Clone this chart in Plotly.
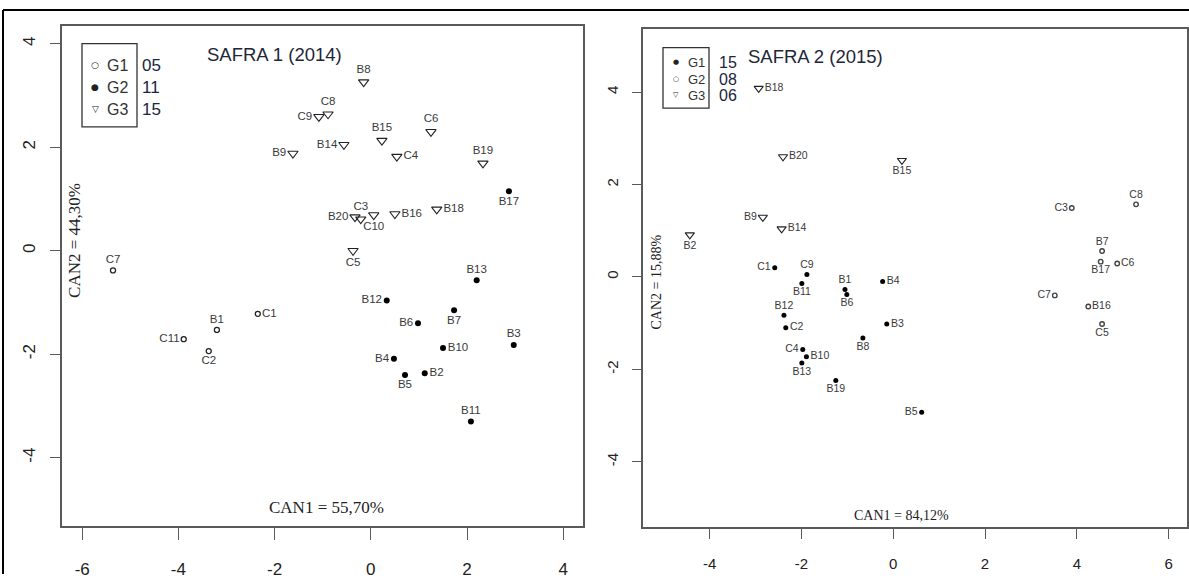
import plotly.graph_objects as go

W, H = 1189, 579

# ---- SAFRA 1 (2014) canonical scores ----
s1_names = ["C1", "B1", "C11", "C2", "C7",
            "B17", "B13", "B12", "B7", "B6", "B3", "B10", "B4", "B5", "B2", "B11",
            "B8", "C8", "C9", "B9", "B14", "B15", "C4", "C6", "B19", "B20", "C3", "C10", "B16", "B18", "C5"]
s1_can1 = [-2.35, -3.20, -3.89, -3.37, -5.36,
           2.87, 2.20, 0.33, 1.73, 0.98, 2.97, 1.50, 0.48, 0.71, 1.12, 2.08,
           -0.15, -0.89, -1.08, -1.62, -0.56, 0.23, 0.54, 1.25, 2.33, -0.33, -0.21, 0.06, 0.50, 1.37, -0.37]
s1_can2 = [-1.22, -1.53, -1.71, -1.94, -0.38,
           1.15, -0.57, -0.96, -1.15, -1.40, -1.82, -1.88, -2.09, -2.40, -2.37, -3.30,
           3.26, 2.64, 2.59, 1.88, 2.05, 2.13, 1.82, 2.30, 1.69, 0.65, 0.61, 0.69, 0.71, 0.80, 0.00]
s1_group = ["G1"] * 5 + ["G2"] * 11 + ["G3"] * 15
s1_counts = {"G1": "05", "G2": "11", "G3": "15"}

# ---- SAFRA 2 (2015) canonical scores ----
s2_names = ["C1", "C9", "B11", "B1", "B6", "B4", "B12", "C2", "B3", "B8", "C4", "B10", "B13", "B19", "B5",
            "C3", "C8", "B7", "B17", "C6", "C7", "B16", "C5",
            "B18", "B20", "B9", "B14", "B2", "B15"]
s2_can1 = [-2.58, -1.88, -1.99, -1.05, -1.01, -0.23, -2.38, -2.34, -0.14, -0.66, -1.97, -1.89, -1.99, -1.25, 0.62,
           3.89, 5.29, 4.55, 4.52, 4.88, 3.52, 4.25, 4.55,
           -2.93, -2.40, -2.84, -2.43, -4.43, 0.19]
s2_can2 = [0.20, 0.05, -0.14, -0.27, -0.38, -0.10, -0.83, -1.10, -1.02, -1.32, -1.57, -1.73, -1.86, -2.24, -2.93,
           1.49, 1.57, 0.56, 0.33, 0.29, -0.40, -0.64, -1.02,
           4.08, 2.60, 1.29, 1.04, 0.91, 2.52]
s2_group = ["G1"] * 15 + ["G2"] * 8 + ["G3"] * 6
s2_counts = {"G1": "15", "G2": "08", "G3": "06"}

# side of each point label (1 below, 2 left, 3 above, 4 right)
s1_side = {"C1": 4, "B1": 3, "C11": 2, "C2": 1, "C7": 3,
           "B17": 1, "B13": 3, "B12": 2, "B7": 1, "B6": 2, "B3": 3, "B10": 4, "B4": 2, "B5": 1, "B2": 4, "B11": 3,
           "B8": 3, "C8": 3, "C9": 2, "B9": 2, "B14": 2, "B15": 3, "C4": 4, "C6": 3, "B19": 3,
           "B20": 2, "C3": 3, "C10": 1, "B16": 4, "B18": 4, "C5": 1}
s2_side = {"C1": 2, "C9": 3, "B11": 1, "B1": 3, "B6": 1, "B4": 4, "B12": 3, "C2": 4, "B3": 4, "B8": 1,
           "C4": 2, "B10": 4, "B13": 1, "B19": 1, "B5": 2,
           "C3": 2, "C8": 3, "B7": 3, "B17": 1, "C6": 4, "C7": 2, "B16": 4, "C5": 1,
           "B18": 4, "B20": 4, "B9": 2, "B14": 4, "B2": 1, "B15": 1}
POS = {1: "bottom center", 2: "middle left", 3: "top center", 4: "middle right"}


def px(x):
    return x / W


def py(y):
    return 1 - y / H


fig = go.Figure()

LEFT_MARK = {
    "G1": dict(symbol="circle-open", size=5, line=dict(width=1.3, color="#222")),
    "G2": dict(symbol="circle", size=6, color="#000"),
    "G3": dict(symbol="triangle-down-open", size=9, line=dict(width=1.1, color="#222")),
}
RIGHT_MARK = {
    "G1": dict(symbol="circle", size=5, color="#000"),
    "G2": dict(symbol="circle-open", size=4.5, line=dict(width=1.4, color="#444")),
    "G3": dict(symbol="triangle-down-open", size=8, line=dict(width=1.1, color="#222")),
}


def add_panel(names, cx, cy, groups, sides, marks, xa, ya, fsize):
    for g in ["G1", "G2", "G3"]:
        idx = [i for i, gg in enumerate(groups) if gg == g]
        m = dict(marks[g])
        if "color" not in m:
            m["color"] = m["line"]["color"]
        fig.add_trace(go.Scatter(
            x=[cx[i] for i in idx], y=[cy[i] for i in idx],
            text=[names[i] for i in idx],
            textposition=[POS[sides[names[i]]] for i in idx],
            mode="markers+text", marker=m,
            textfont=dict(family="Liberation Sans", size=fsize, color="#3a3a3a"),
            xaxis=xa, yaxis=ya, showlegend=False, hoverinfo="skip", cliponaxis=False))


add_panel(s1_names, s1_can1, s1_can2, s1_group, s1_side, LEFT_MARK, "x", "y", 11.5)
add_panel(s2_names, s2_can1, s2_can2, s2_group, s2_side, RIGHT_MARK, "x2", "y2", 10.5)

axis_common = dict(showgrid=False, zeroline=False, showline=True, mirror=True,
                   linecolor="#5a5a5a", linewidth=1.6, ticks="outside", tickcolor="#5a5a5a",
                   tickwidth=1.4)

fig.update_layout(
    width=W, height=H, margin=dict(l=0, r=0, t=0, b=0),
    paper_bgcolor="white", plot_bgcolor="white",
    xaxis=dict(domain=[px(62), px(583)], range=[-6.42, 4.41], tickvals=[-6, -4, -2, 0, 2, 4],
               ticktext=["-6", "-4", "-2", "0", "2", "4"], ticklen=12, ticklabelstandoff=14,
               tickfont=dict(family="Liberation Sans", size=17, color="#222"), anchor="y", **axis_common),
    yaxis=dict(domain=[py(531), py(26)], range=[-5.33, 4.35], tickvals=[-4, -2, 0, 2, 4],
               ticktext=["-4", "-2", "0", "2", "4"], ticklen=10, tickangle=-90, ticklabelstandoff=8,
               tickfont=dict(family="Liberation Sans", size=17, color="#222"), anchor="x", **axis_common),
    xaxis2=dict(domain=[px(643), px(1187)], range=[-5.45, 6.40], tickvals=[-4, -2, 0, 2, 4, 6],
                ticktext=["-4", "-2", "0", "2", "4", "6"], ticklen=10, ticklabelstandoff=12,
                tickfont=dict(family="Liberation Sans", size=15, color="#222"), anchor="y2", **axis_common),
    yaxis2=dict(domain=[py(532), py(29)], range=[-5.42, 5.37], tickvals=[-4, -2, 0, 2, 4],
                ticktext=["-4", "-2", "0", "2", "4"], ticklen=9, tickangle=-90, ticklabelstandoff=8,
                tickfont=dict(family="Liberation Sans", size=15, color="#222"), anchor="x2", **axis_common),
)

ann = []
shapes = []


def note(text, x, y, size, family="Liberation Sans", color="#222", xanchor="center", angle=0):
    ann.append(dict(text=text, x=px(x), y=py(y), xref="paper", yref="paper", showarrow=False,
                    xanchor=xanchor, yanchor="middle", textangle=angle,
                    font=dict(family=family, size=size, color=color)))


# outer frame
shapes.append(dict(type="line", xref="paper", yref="paper", x0=px(3), x1=1, y0=py(10), y1=py(10),
                   line=dict(color="#000", width=2)))
shapes.append(dict(type="line", xref="paper", yref="paper", x0=px(3), x1=px(3), y0=0, y1=py(10),
                   line=dict(color="#000", width=2)))

# panel titles
note("SAFRA 1 (2014)", 274, 55, 18.5, color="#1e2638")
note("SAFRA 2 (2015)", 815, 57, 18.5, color="#1e2638")

# axis titles drawn inside the plot boxes
note("CAN2 = 44,30%", 75, 243, 17, family="Liberation Serif", angle=-90)
note("CAN1 = 55,70%", 326, 512, 17, family="Liberation Serif")
note("CAN2 = 15,88%", 657, 285, 14, family="Liberation Serif", angle=-90)
note("CAN1 = 84,12%", 901, 520, 14, family="Liberation Serif")


def group_key(x0, x1, y0, y1, rows, counts, sym_size, lab_size, num_size, num_x):
    shapes.append(dict(type="rect", xref="paper", yref="paper", x0=px(x0), x1=px(x1), y0=py(y1), y1=py(y0),
                       line=dict(color="#333", width=1.3)))
    for (g, sym, yy) in rows:
        note(sym, x0 + 13, yy, sym_size, family="DejaVu Sans")
        note(g, x0 + 23, yy, lab_size, color="#333", xanchor="left")
        note(counts[g], num_x, yy, num_size, color="#1b2440", xanchor="left")


group_key(82, 137, 44, 128, [("G1", "○", 66), ("G2", "●", 88), ("G3", "▽", 110)], s1_counts,
          9, 16, 17, 140)
group_key(663, 709, 48, 109, [("G1", "●", 63), ("G2", "○", 80), ("G3", "▽", 96)], s2_counts,
          7, 13, 16, 717)

fig.update_layout(annotations=ann, shapes=shapes)
fig.write_html("out.html")
